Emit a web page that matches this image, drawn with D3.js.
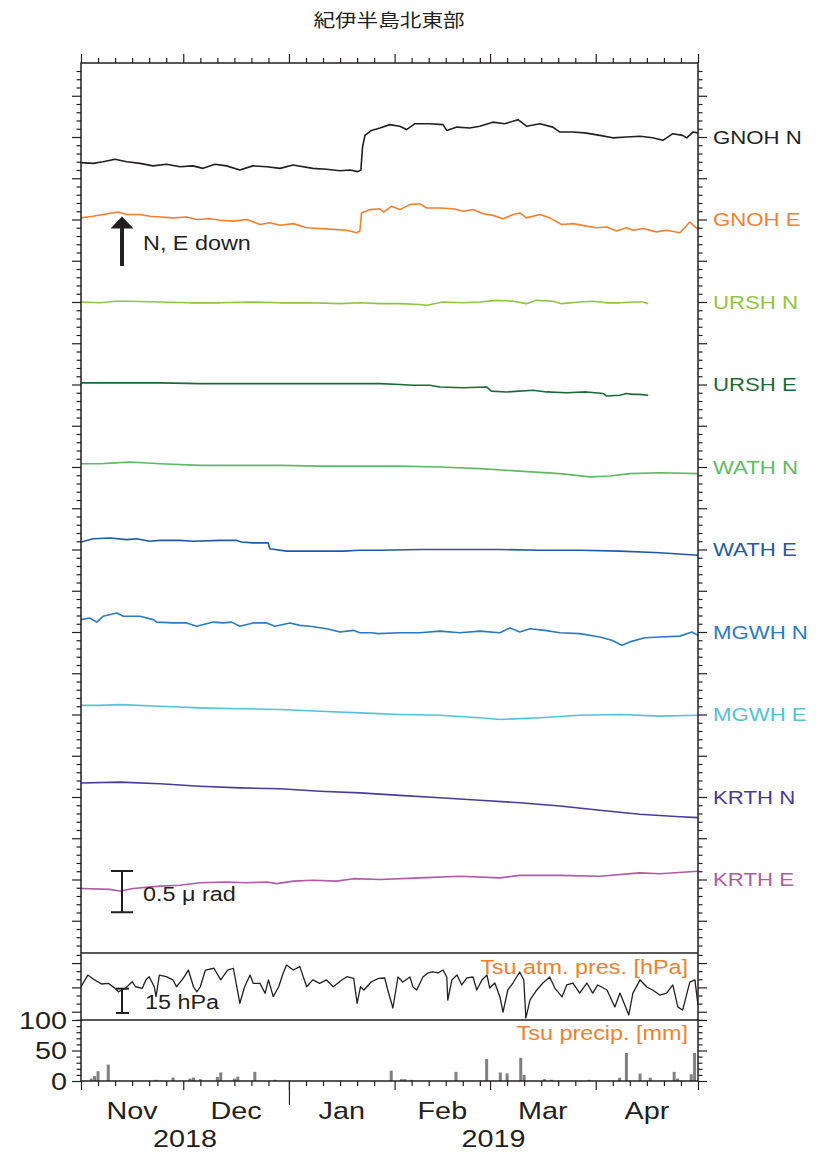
<!DOCTYPE html>
<html>
<head>
<meta charset="utf-8">
<script src="https://cdn.jsdelivr.net/npm/d3@7"></script>
<style>
  body { margin: 0; background: #fff; }
  text { font-family: "Liberation Sans", Arial, sans-serif; fill: #231f20; }
</style>
</head>
<body>
<svg id="chart" width="823" height="1153"></svg>
<script>
"use strict";

// station channels, top to bottom
const stations = ["GNOH N", "GNOH E", "URSH N", "URSH E", "WATH N", "WATH E", "MGWH N", "MGWH E", "KRTH N", "KRTH E"];
const colors = ["#231f20", "#f47f2e", "#8dc63f", "#1b6a36", "#5dbb63", "#1f5aa8", "#2a7bc6", "#4fc3d9", "#4a3a9c", "#b05aa8"];

// tilt in micro-radian relative to each channel's reference level, [day since 2018-11-01, value]
const gnohN = [[0,-0.31],[3.5,-0.32],[6.5,-0.30],[10,-0.27],[13.4,-0.30],[17.3,-0.32],[21.1,-0.35],[25.1,-0.33],[29,-0.36],[32.8,-0.35],[35.8,-0.38],[39.3,-0.33],[42.7,-0.35],[46.6,-0.40],[50.4,-0.35],[54.5,-0.36],[58.4,-0.38],[62.2,-0.34],[68,-0.38],[72,-0.39],[76,-0.41],[78.9,-0.40],[81.2,-0.42],[82.1,-0.40],[82.6,-0.12],[83.3,0.02],[85.2,0.08],[87.7,0.11],[90.6,0.15],[93.5,0.13],[95.5,0.09],[97.9,0.16],[102.3,0.16],[106.2,0.15],[107.3,0.08],[110.3,0.12],[114,0.11],[117,0.13],[120.8,0.18],[124.3,0.16],[128.2,0.21],[130.8,0.13],[134.6,0.16],[138.4,0.12],[140.5,0.06],[144.3,0.06],[147.8,0.05],[152.2,0.02],[156,-0.01],[160,0.0],[164,0.01],[167.7,-0.01],[170.7,-0.04],[173.6,0.04],[176.5,0.02],[177.7,-0.01],[179.5,0.06],[181,0.05]];
const gnohE = [[0,0.02],[3.5,0.04],[6.5,0.06],[10.9,0.09],[13.4,0.06],[17.3,0.06],[20.2,0.04],[23.2,0.03],[27.1,0.02],[31,0.03],[33.9,0.0],[37.8,0.01],[40.8,-0.01],[44.7,-0.02],[48.6,0.0],[52.5,-0.06],[55.4,-0.04],[58.4,-0.07],[62.3,-0.05],[66.2,-0.10],[70.1,-0.11],[74,-0.12],[77.9,-0.13],[80.9,-0.16],[81.8,-0.14],[82.3,0.08],[84.8,0.12],[87.7,0.13],[88.7,0.09],[91.1,0.16],[93.5,0.12],[96.5,0.18],[99.4,0.19],[101.4,0.14],[105.3,0.14],[109.2,0.13],[112.1,0.10],[115,0.12],[118,0.07],[120.9,0.05],[123.8,0.01],[126.8,0.06],[128.7,0.08],[130.7,0.02],[134.6,0.06],[137.5,0.02],[141,-0.06],[144.4,-0.05],[148.3,-0.08],[151.2,-0.10],[154.2,-0.09],[157.1,-0.14],[160,-0.10],[162,-0.13],[164.9,-0.11],[168.8,-0.15],[171.8,-0.13],[175.7,-0.16],[178.6,-0.03],[181,-0.12]];
const urshN = [[0,0],[5.6,-0.01],[10,0.01],[14.4,0.01],[23.2,0],[32,-0.01],[40.8,-0.01],[49.6,0],[58.4,-0.01],[67.2,-0.01],[76,-0.02],[81.8,-0.01],[87.7,-0.02],[93.5,-0.02],[99.4,-0.03],[101.4,-0.04],[106.2,0.0],[112.1,-0.01],[117,0.0],[121.9,0.02],[126.8,0.01],[130.7,-0.02],[133.6,0.02],[138.5,0.01],[141,-0.02],[146.3,0.0],[150.2,0.01],[154.2,-0.01],[158.1,-0.01],[162,0.0],[164.9,0.0],[166.4,-0.02]];
const urshE = [[0,0.02],[11.4,0.02],[23.2,0.02],[34.9,0.01],[46.6,0.01],[58.4,0.01],[70.1,0.01],[81.8,0.01],[87.7,0.01],[93.5,0.0],[97.5,-0.01],[102.3,-0.01],[105.3,-0.03],[112.1,-0.04],[119,-0.03],[120.4,-0.08],[124.8,-0.09],[132.6,-0.07],[136.6,-0.09],[142.4,-0.10],[148.3,-0.09],[153.2,-0.11],[154.2,-0.14],[158.1,-0.13],[160,-0.11],[162,-0.12],[163.9,-0.12],[166.4,-0.13]];
const wathN = [[0,0.04],[5.6,0.04],[10,0.05],[14.4,0.06],[23.2,0.04],[34.9,0.02],[46.6,0.02],[58.4,0.02],[70.1,0.01],[81.8,0.01],[93.5,0.01],[105.3,0],[117,-0.02],[128.7,-0.05],[140.5,-0.08],[149.3,-0.12],[155.1,-0.11],[161,-0.08],[169.8,-0.07],[181,-0.08]];
const wathE = [[0,0.09],[3.6,0.13],[8.5,0.14],[13.4,0.12],[16.3,0.13],[20.2,0.10],[23.2,0.11],[29,0.11],[32.9,0.10],[40.8,0.11],[45.7,0.11],[47.1,0.09],[50.5,0.08],[53.5,0.08],[54.9,0.08],[55.4,0.01],[60.3,-0.02],[67.2,-0.02],[76.9,-0.02],[81.8,-0.01],[87.7,-0.01],[99.4,0],[111.1,0],[122.9,0],[134.6,-0.01],[146.3,-0.01],[158.1,-0.02],[169.8,-0.04],[181,-0.07]];
const mgwhN = [[0,0.15],[2.6,0.17],[4.6,0.12],[6.5,0.19],[10.5,0.23],[12.4,0.19],[17.3,0.19],[21.2,0.15],[22.2,0.12],[27.1,0.11],[31,0.11],[33.9,0.07],[38.8,0.12],[41.7,0.11],[44.2,0.12],[46.6,0.07],[50.5,0.11],[54.5,0.11],[56.9,0.07],[61.3,0.11],[64.2,0.08],[67.2,0.07],[72.1,0.04],[76,0.0],[79.9,0.02],[81.8,-0.01],[85.2,-0.01],[87.2,-0.02],[93.5,-0.01],[99.4,-0.01],[105.3,0.01],[111.1,-0.01],[117,0.01],[122.9,-0.01],[125.8,0.05],[128.7,0.0],[131.7,0.04],[136.1,0.02],[140.5,-0.01],[146.3,-0.02],[152.2,-0.06],[155.7,-0.10],[158.7,-0.16],[161,-0.12],[165.4,-0.07],[169.8,-0.06],[175.7,-0.05],[179.2,0.0],[181,-0.04]];
const mgwhE = [[0,0.11],[5.6,0.11],[11.4,0.12],[23.2,0.10],[34.9,0.08],[46.6,0.07],[58.4,0.06],[70.1,0.04],[81.8,0.02],[93.5,0],[105.3,-0.01],[117,-0.04],[122.9,-0.06],[134.6,-0.04],[146.3,-0.01],[158.1,0],[169.8,-0.02],[181,-0.01]];
const krthN = [[0,0.17],[11.4,0.18],[23.2,0.16],[34.9,0.13],[46.6,0.11],[58.4,0.10],[70.1,0.07],[81.8,0.05],[93.5,0.02],[105.3,-0.01],[117,-0.04],[128.7,-0.07],[140.5,-0.11],[152.2,-0.16],[163.9,-0.21],[175.7,-0.24],[181,-0.25]];
const krthE = [[0,-0.11],[8.5,-0.12],[11.4,-0.14],[15.3,-0.11],[23.2,-0.08],[29,-0.07],[34.9,-0.04],[42.7,-0.03],[48.6,-0.04],[54.5,-0.03],[57.4,-0.05],[62.3,-0.02],[68.1,-0.01],[75,-0.02],[79.9,0.01],[87.7,0],[99.4,0.02],[111.1,0.04],[122.9,0.02],[128.7,0.05],[140.5,0.05],[152.2,0.04],[163.9,0.08],[169.8,0.07],[181,0.10]];
const channels = [gnohN, gnohE, urshN, urshE, wathN, wathE, mgwhN, mgwhE, krthN, krthE];

// Tsu atmospheric pressure [hPa], [day, value]
const pressure = [[0,1015.4],[2,1022.6],[4,1019.6],[6,1017.1],[8,1017.5],[10,1014.4],[11,1012.3],[13,1014.4],[15,1018.5],[16,1015.4],[18,1014.4],[19,1019.6],[20,1021.6],[21.5,1015.4],[22,1009.3],[23,1022.6],[25,1021.6],[27,1019.6],[28,1015.4],[30,1020.6],[31.5,1025.7],[33,1015.4],[34,1012.3],[35,1015.4],[36.5,1025.7],[39,1026.8],[41,1019.6],[43,1025.7],[44.7,1026.8],[46.6,1005.2],[48,1015.4],[49.6,1022.6],[50.5,1017.5],[52.5,1017.5],[54,1011.4],[55,1019.6],[56.4,1009.3],[58,1015.4],[59.3,1023.7],[60.3,1028.8],[62.3,1025.7],[64.2,1027.8],[66.2,1015.4],[68,1019.6],[70,1017.5],[72,1019.6],[74,1015.4],[76.5,1019.6],[78,1021.6],[80,1020.6],[81,1005.2],[82,1015.4],[83,1013.4],[85.2,1018.5],[87.3,1020.6],[89.1,1020.8],[90,1013.4],[91.5,1002.3],[93,1021.4],[94.4,1018.3],[96.5,1021.4],[97.4,1015.2],[98.5,1013.4],[100.3,1021.4],[101.8,1023.9],[103.2,1024.5],[104.7,1023.9],[106.2,1025.7],[107.3,1021.4],[107.6,1007.2],[108.8,1019.6],[110.3,1022.6],[111.7,1016.5],[113.2,1020.8],[115,1021.4],[116.1,1013.4],[117.6,1019.6],[119.1,1022.6],[119.9,1014.6],[121.4,1017.7],[122.9,1009.1],[123.8,999.8],[125.2,1013.4],[126.7,1017.7],[128.7,1024.5],[129.9,1019.6],[130.5,996.1],[131.7,1007.2],[133.7,1013.4],[135.5,1017.7],[137.5,1021.4],[139,1014.6],[141.1,1009.1],[142.5,1016.5],[144.3,1017.7],[146.3,1011.5],[148.4,1017.7],[150.1,1011.5],[151.6,1016.5],[154.3,1013.4],[156.6,1002.9],[158.1,1011.5],[160.7,998.0],[161.9,1011.5],[164,1019.6],[166,1015.2],[167.7,1013.4],[169.8,1010.3],[171.8,1011.5],[173.6,1016.5],[175.1,1002.9],[176.5,1001.0],[178.6,1018.3],[180.1,1019.6],[181,1004.1]];

// Tsu daily precipitation [mm], [day, value]
const precip = [[3,4],[4,8],[5,16],[8,27],[22,2],[27,5.5],[32,4],[33,5.5],[35,3],[40,6.5],[41,14],[45,4],[46,7],[51,15],[57,2],[91,17],[94,3],[95,3],[97,2],[110,15],[119,36],[123,14],[125,12.5],[129,38],[130,10],[136,3],[138,2],[149,2],[158,5.5],[160,46],[164,12],[167,5.5],[174,15],[175,4],[179,11],[180,46]];

const monthNames = ["Nov", "Dec", "Jan", "Feb", "Mar", "Apr"];
const yearLabels = ["2018", "2019"];
const precipTicks = [0, 50, 100];

const T0 = Date.UTC(2018, 10, 1);
const T1 = Date.UTC(2019, 4, 1);
const dayToDate = d => new Date(T0 + d * 864e5);

const L = 81, R = 698, TOP = 63, MAIN_B = 953, PRES_B = 1020, RAIN_B = 1081;
const INK = "#231f20", ORANGE = "#f47f2e";

const svg = d3.select("#chart");

const x = d3.scaleUtc().domain([T0, T1]).range([L, R]);
const yMain = d3.scaleLinear().domain([-0.897, 9.891]).range([TOP, MAIN_B]);
const yPres = d3.scaleLinear().domain([994.9, 1036.2]).range([PRES_B, MAIN_B]);
const yRain = d3.scaleLinear().domain([0, 100]).range([RAIN_B, PRES_B]);

// text drawn a bit wide, like the original
function label(x0, y0, str, size, opts) {
  opts = opts || {};
  return svg.append("text")
    .attr("transform", "translate(" + x0 + "," + y0 + ") scale(1.2,1)")
    .attr("text-anchor", opts.anchor || "start")
    .style("font-size", size + "px")
    .style("fill", opts.color || INK)
    .style("font-family", opts.family || null)
    .text(str);
}

function tickAxis(axisFn, scale, values, size, tx, ty) {
  const g = svg.append("g")
    .attr("transform", "translate(" + tx + "," + ty + ")")
    .call(axisFn(scale).tickValues(values).tickSize(size).tickFormat(""));
  g.select(".domain").remove();
  g.selectAll(".tick line").attr("stroke", INK).attr("stroke-width", 1.2);
  return g;
}

// clip for the plot areas
svg.append("clipPath").attr("id", "clipMain").append("rect")
  .attr("x", L).attr("y", TOP).attr("width", R - L).attr("height", MAIN_B - TOP);
svg.append("clipPath").attr("id", "clipPres").append("rect")
  .attr("x", L).attr("y", MAIN_B).attr("width", R - L).attr("height", PRES_B - MAIN_B);

// tilt channels
const mainG = svg.append("g").attr("clip-path", "url(#clipMain)");
channels.forEach(function(data, k) {
  const line = d3.line()
    .x(d => x(dayToDate(d[0])))
    .y(d => yMain(k - d[1]));
  mainG.append("path")
    .datum(data)
    .attr("fill", "none")
    .attr("stroke", colors[k])
    .attr("stroke-width", 1.6)
    .attr("stroke-linejoin", "round")
    .attr("d", line);
  label(713, yMain(k) + 6.6, stations[k], 18.5, { color: colors[k] });
});

// pressure
svg.append("path")
  .datum(pressure)
  .attr("clip-path", "url(#clipPres)")
  .attr("fill", "none")
  .attr("stroke", INK)
  .attr("stroke-width", 1.3)
  .attr("stroke-linejoin", "round")
  .attr("d", d3.line().x(d => x(dayToDate(d[0]))).y(d => yPres(d[1])));

// precipitation bars
svg.append("g").selectAll("rect")
  .data(precip)
  .enter()
  .append("rect")
  .attr("x", d => x(dayToDate(d[0])) - 1.5)
  .attr("width", 3)
  .attr("y", d => yRain(d[1]))
  .attr("height", d => yRain(0) - yRain(d[1]))
  .attr("fill", "#7f7f7f");

// frames
const frame = svg.append("g").attr("fill", "none").attr("stroke", INK).attr("stroke-width", 1.5);
frame.append("rect").attr("x", L).attr("y", TOP).attr("width", R - L).attr("height", RAIN_B - TOP);
frame.append("line").attr("x1", L).attr("x2", R).attr("y1", MAIN_B).attr("y2", MAIN_B);
frame.append("line").attr("x1", L).attr("x2", R).attr("y1", PRES_B).attr("y2", PRES_B);

// y ticks of the tilt panel
const mainMinor = d3.range(-8, 99).map(i => i / 10).filter(v => Math.abs(v * 2 - Math.round(v * 2)) > 1e-6);
const mainMajor = d3.range(-1, 20).map(i => i / 2).filter(v => v > -0.897 && v < 9.891);
tickAxis(d3.axisLeft, yMain, mainMinor, 4.5, L, 0);
tickAxis(d3.axisLeft, yMain, mainMajor, 9, L, 0);
tickAxis(d3.axisRight, yMain, mainMinor, 4.5, R, 0);
tickAxis(d3.axisRight, yMain, mainMajor, 9, R, 0);

// pressure ticks
const presMinor = [995, 1005, 1010, 1020, 1025, 1035];
const presMajor = [1000, 1015, 1030];
tickAxis(d3.axisLeft, yPres, presMinor, 4.5, L, 0);
tickAxis(d3.axisLeft, yPres, presMajor, 9, L, 0);
tickAxis(d3.axisRight, yPres, presMinor, 4.5, R, 0);
tickAxis(d3.axisRight, yPres, presMajor, 9, R, 0);

// precipitation ticks
const rainMinor = d3.range(10, 100, 10).filter(v => v !== 50);
tickAxis(d3.axisLeft, yRain, rainMinor, 4.5, L, 0);
tickAxis(d3.axisLeft, yRain, precipTicks, 9, L, 0);
tickAxis(d3.axisRight, yRain, rainMinor, 4.5, R, 0);
tickAxis(d3.axisRight, yRain, precipTicks, 9, R, 0);
precipTicks.forEach(function(v) {
  label(67, yRain(v) + 8.6, String(v), 24, { anchor: "end" });
});

// time ticks, top and bottom
const fiveDays = d3.utcDay.range(new Date(T0), new Date(T1))
  .filter(d => [6, 11, 16, 21, 26].indexOf(d.getUTCDate()) >= 0);
const months = d3.utcMonth.range(new Date(T0), new Date(T1 + 1));
tickAxis(d3.axisTop, x, fiveDays, 5, 0, TOP);
tickAxis(d3.axisTop, x, months, 9, 0, TOP);
tickAxis(d3.axisBottom, x, fiveDays, 5, 0, RAIN_B);
tickAxis(d3.axisBottom, x, months, 9, 0, RAIN_B);
tickAxis(d3.axisBottom, x, [new Date(Date.UTC(2019, 0, 1))], 24, 0, RAIN_B);

// month and year labels
monthNames.forEach(function(m, i) {
  const a = months[i], b = months[i + 1];
  label((x(a) + x(b)) / 2, 1119, m, 24, { anchor: "middle" });
});
label((x(new Date(T0)) + x(new Date(Date.UTC(2019, 0, 1)))) / 2, 1147, yearLabels[0], 24, { anchor: "middle" });
label((x(new Date(Date.UTC(2019, 0, 1))) + x(new Date(T1))) / 2, 1147, yearLabels[1], 24, { anchor: "middle" });

// title
label(389, 27, "紀伊半島北東部", 18, { anchor: "middle", family: "'Noto Sans CJK JP', sans-serif" });

// direction arrow
svg.append("path")
  .attr("d", "M122,216.5 L133.5,228.5 L124,228.5 L124,266 L120,266 L120,228.5 L110.5,228.5 Z")
  .attr("fill", INK);
label(143, 250, "N, E down", 19.5);

// 0.5 micro-radian scale bar
const bar = svg.append("g").attr("stroke", INK).attr("stroke-width", 2);
const sb0 = 871, sb1 = sb0 + (yMain(0.5) - yMain(0));
bar.append("line").attr("x1", 122).attr("x2", 122).attr("y1", sb0).attr("y2", sb1);
bar.append("line").attr("x1", 111).attr("x2", 133).attr("y1", sb0).attr("y2", sb0);
bar.append("line").attr("x1", 111).attr("x2", 133).attr("y1", sb1).attr("y2", sb1);
label(143, 901, "0.5 μ rad", 19.5);

// 15 hPa scale bar
const pb1 = 1013, pb0 = pb1 - (yPres(1000) - yPres(1015));
bar.append("line").attr("x1", 122).attr("x2", 122).attr("y1", pb0).attr("y2", pb1);
bar.append("line").attr("x1", 116).attr("x2", 129).attr("y1", pb0).attr("y2", pb0);
bar.append("line").attr("x1", 116).attr("x2", 129).attr("y1", pb1).attr("y2", pb1);
label(145, 1009, "15 hPa", 19.5);

// panel titles
label(688, 974, "Tsu atm. pres. [hPa]", 19.5, { anchor: "end", color: ORANGE });
label(688, 1040, "Tsu precip. [mm]", 19.5, { anchor: "end", color: ORANGE });
</script>
</body>
</html>
